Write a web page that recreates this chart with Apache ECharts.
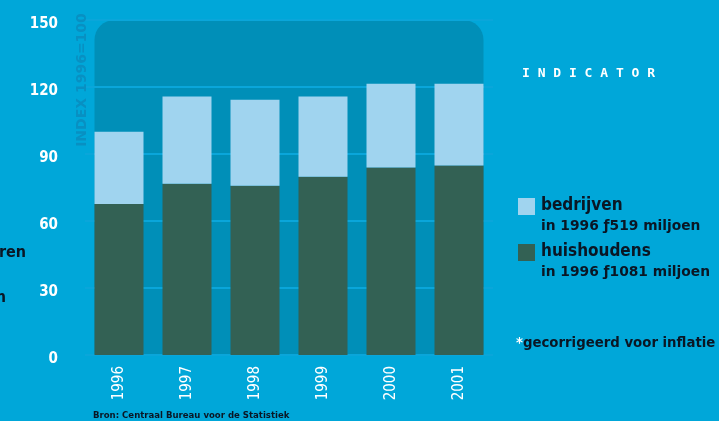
<!DOCTYPE html>
<html>
<head>
<meta charset="utf-8">
<script src="https://cdn.jsdelivr.net/npm/echarts@6/dist/echarts.min.js"></script>
<style>
  html, body { margin: 0; padding: 0; background: #00a7d9; }
  #chart { width: 719px; height: 421px; }
</style>
</head>
<body>
<div id="chart"></div>
<script>
// Index 1996 = 100, split into households and companies
const years = ['1996', '1997', '1998', '1999', '2000', '2001'];
const huishoudens = [67.6, 76.7, 75.8, 79.8, 83.9, 84.8];
const bedrijven = [32.4, 39.0, 38.5, 35.9, 37.6, 36.7];
const yTicks = [0, 30, 60, 90, 120, 150];

const BG = '#00a7d9';
const PANEL = '#008fb8';
const LIGHT = '#a0d4ef';
const DARK = '#336154';
const INK = '#0a1624';
const COND = '"DejaVu Sans Condensed", "DejaVu Sans", sans-serif';
const SANS = '"DejaVu Sans", sans-serif';

const chart = echarts.init(document.getElementById('chart'), null, { renderer: 'canvas' });

const option = {
  backgroundColor: BG,
  animation: false,
  grid: { left: 85, width: 408, top: 20, bottom: 66, containLabel: false },
  xAxis: {
    type: 'category',
    data: years,
    axisLine: { show: false },
    axisTick: { show: false },
    axisLabel: {
      rotate: 90,
      margin: 11,
      color: '#ffffff',
      fontSize: 15,
      fontFamily: COND
    }
  },
  yAxis: {
    type: 'value',
    min: yTicks[0],
    max: yTicks[yTicks.length - 1],
    interval: yTicks[1] - yTicks[0],
    axisLine: { show: false },
    axisTick: { show: false },
    splitLine: { lineStyle: { color: '#0aa6da', width: 2 } },
    axisLabel: {
      margin: 27,
      color: '#ffffff',
      fontSize: 15,
      fontWeight: 'bold',
      fontFamily: COND,
      verticalAlign: 'top',
      lineHeight: 8
    }
  },
  series: [
    {
      name: 'huishoudens',
      type: 'bar',
      stack: 'index',
      barWidth: 49,
      itemStyle: { color: DARK },
      data: huishoudens
    },
    {
      name: 'bedrijven',
      type: 'bar',
      stack: 'index',
      barWidth: 49,
      itemStyle: { color: LIGHT },
      data: bedrijven
    }
  ]
};

chart.setOption(option);

// Rounded panel behind the bars, spanning the outer bar edges and the axis range
const half = 24.5;
const pLeft = chart.convertToPixel({ xAxisIndex: 0 }, years[0]) - half;
const pRight = chart.convertToPixel({ xAxisIndex: 0 }, years[years.length - 1]) + half;
const pTop = chart.convertToPixel({ yAxisIndex: 0 }, yTicks[yTicks.length - 1]);
const pBottom = chart.convertToPixel({ yAxisIndex: 0 }, yTicks[0]);

chart.setOption({
  graphic: [
    {
      type: 'rect',
      z: -10,
      shape: { x: pLeft, y: pTop, width: pRight - pLeft, height: pBottom - pTop, r: [20, 20, 0, 0] },
      style: { fill: PANEL },
      silent: true
    },
    {
      type: 'text',
      x: 82, y: 80,
      rotation: Math.PI / 2,
      style: {
        text: 'INDEX 1996=100',
        fill: '#0890c2',
        font: 'bold 14px ' + SANS,
        align: 'center',
        verticalAlign: 'middle'
      }
    },
    {
      type: 'text', x: 26, y: 253,
      style: { text: 'ren', fill: INK, font: 'bold 16px ' + COND, align: 'right', verticalAlign: 'middle' }
    },
    {
      type: 'text', x: 6, y: 298,
      style: { text: 'n', fill: INK, font: 'bold 16px ' + COND, align: 'right', verticalAlign: 'middle' }
    },
    {
      type: 'text', x: 522, y: 74,
      style: {
        text: 'I N D I C A T O R',
        fill: '#ffffff',
        font: 'bold 13px "DejaVu Sans Mono", monospace',
        align: 'left',
        verticalAlign: 'middle'
      }
    },
    {
      type: 'rect',
      shape: { x: 518, y: 198, width: 17, height: 17 },
      style: { fill: LIGHT }
    },
    {
      type: 'text', x: 541, y: 206,
      style: { text: 'bedrijven', fill: INK, font: 'bold 17px ' + COND, align: 'left', verticalAlign: 'middle' }
    },
    {
      type: 'text', x: 541, y: 226,
      style: { text: 'in 1996 ƒ519 miljoen', fill: INK, font: 'bold 13.8px ' + SANS, align: 'left', verticalAlign: 'middle' }
    },
    {
      type: 'rect',
      shape: { x: 518, y: 244, width: 17, height: 17 },
      style: { fill: DARK }
    },
    {
      type: 'text', x: 541, y: 252,
      style: { text: 'huishoudens', fill: INK, font: 'bold 17px ' + COND, align: 'left', verticalAlign: 'middle' }
    },
    {
      type: 'text', x: 541, y: 272,
      style: { text: 'in 1996 ƒ1081 miljoen', fill: INK, font: 'bold 13.8px ' + SANS, align: 'left', verticalAlign: 'middle' }
    },
    {
      type: 'text', x: 516, y: 344,
      style: {
        text: '{a|*}{b|gecorrigeerd voor inflatie}',
        verticalAlign: 'middle',
        rich: {
          a: { fill: '#ffffff', color: '#ffffff', font: 'bold 13.3px ' + SANS },
          b: { fill: INK, color: INK, font: 'bold 13.3px ' + SANS }
        }
      }
    },
    {
      type: 'text', x: 93, y: 416,
      style: {
        text: 'Bron: Centraal Bureau voor de Statistiek',
        fill: INK,
        font: 'bold 9.5px ' + COND,
        align: 'left',
        verticalAlign: 'middle'
      }
    }
  ]
});
</script>
</body>
</html>
